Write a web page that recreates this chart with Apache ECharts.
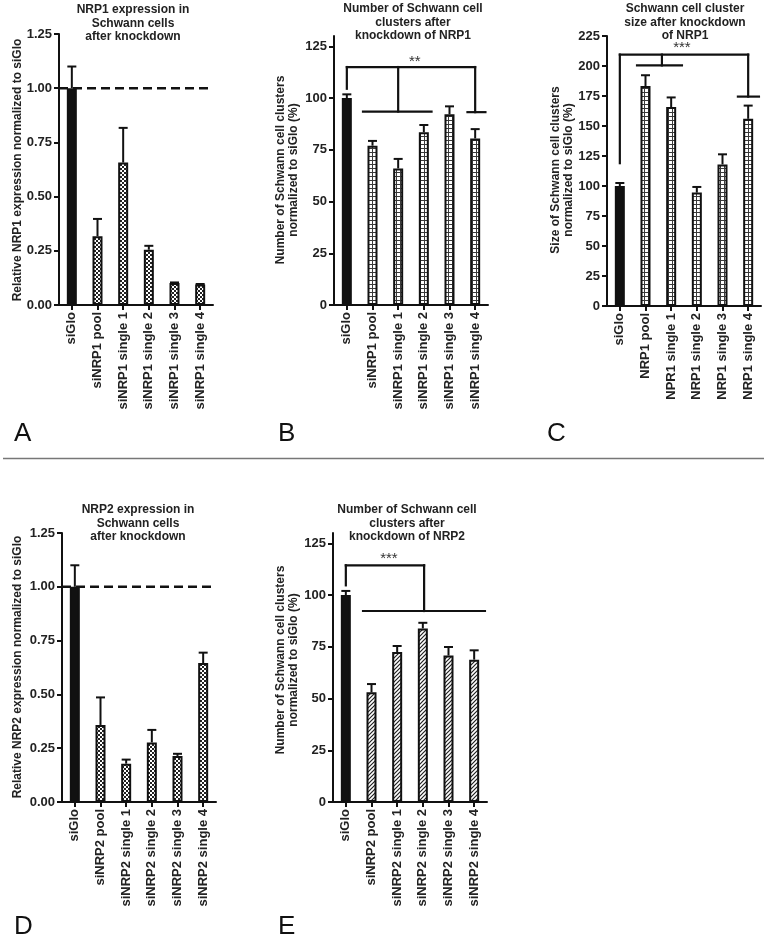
<!DOCTYPE html>
<html><head><meta charset="utf-8">
<script src="https://cdn.jsdelivr.net/npm/echarts@6/dist/echarts.min.js"></script>
<style>html,body{margin:0;padding:0;background:#fff}#c{width:764px;height:939px}</style>
</head><body><div id="c"></div>
<script>
// ---------- DATA ----------
const catsA = ['siGlo','siNRP1 pool','siNRP1 single 1','siNRP1 single 2','siNRP1 single 3','siNRP1 single 4'];
const meanA = [1.00, 0.317, 0.657, 0.255, 0.101, 0.094];
const semA  = [0.10, 0.080, 0.160, 0.018, 0.003, 0.003];

const catsB = ['siGlo','siNRP1 pool','siNRP1 single 1','siNRP1 single 2','siNRP1 single 3','siNRP1 single 4'];
const meanB = [100, 77.0, 66.0, 83.5, 92.2, 80.5];
const semB  = [1.8, 2.3, 4.6, 3.5, 3.8, 4.5];

const catsC = ['siGlo','NRP1 pool','NPR1 single 1','NRP1 single 2','NRP1 single 3','NRP1 single 4'];
const meanC = [100, 183.3, 165.8, 94.5, 118.0, 156.0];
const semC  = [2.5, 9.0, 8.0, 4.7, 8.4, 11.0];

const catsD = ['siGlo','siNRP2 pool','siNRP2 single 1','siNRP2 single 2','siNRP2 single 3','siNRP2 single 4'];
const meanD = [1.00, 0.358, 0.178, 0.277, 0.214, 0.646];
const semD  = [0.10, 0.128, 0.019, 0.058, 0.010, 0.048];

const catsE = ['siGlo','siNRP2 pool','siNRP2 single 1','siNRP2 single 2','siNRP2 single 3','siNRP2 single 4'];
const meanE = [100, 53.0, 72.5, 83.9, 70.8, 68.8];
const semE  = [2.0, 4.0, 2.9, 2.7, 4.1, 4.5];

const ticksFrac = [0, 0.25, 0.5, 0.75, 1.0, 1.25];
const ticks125  = [0, 25, 50, 75, 100, 125];
const ticks225  = [0, 25, 50, 75, 100, 125, 150, 175, 200, 225];

const refLevel = 1.0;   // dashed reference line (A, D)

// significance brackets: [x1, y1, x2, y2] in (category index, value) units
const bracketB = [[0,104.5,0,115],[0,115,5,115],[2,115,2,93.5],[0.63,93.5,3.3,93.5],[5,115,5,93.2],[4.7,93.2,5.4,93.2]];
const bracketC = [[0,119,0,209.5],[0,209.5,5,209.5],[1.64,209.5,1.64,200.5],[0.67,200.5,2.42,200.5],[5,209.5,5,174.5],[4.6,174.5,5.42,174.5]];
const bracketE = [[0,104.7,0,114.4],[0,114.4,3.05,114.4],[3.05,114.4,3.05,92.3],[0.67,92.3,5.42,92.3]];
const starPosB = [[2.65, 117.6]]; const starTxtB = ['**'];
const starPosC = [[2.42, 215.0]]; const starTxtC = ['***'];
const starPosE = [[1.68, 117.4]]; const starTxtE = ['***'];

// ---------- PATTERNS ----------
function makePattern(kind){
  const c = document.createElement('canvas');
  const n = 4; c.width = n; c.height = n;
  const g = c.getContext('2d');
  g.fillStyle = '#fff'; g.fillRect(0,0,n,n);
  if (kind === 'checker'){
    g.fillStyle = '#222'; g.fillRect(0,0,2,2); g.fillRect(2,2,2,2);
  } else if (kind === 'grid'){
    g.fillStyle = '#3a3a3a'; g.fillRect(0,0,n,1); g.fillRect(0,0,1,n);
  } else if (kind === 'hatch'){
    g.strokeStyle = '#222'; g.lineWidth = 1.2;
    g.beginPath();
    g.moveTo(0,n); g.lineTo(n,0);
    g.moveTo(-1,1); g.lineTo(1,-1);
    g.moveTo(n-1,n+1); g.lineTo(n+1,n-1);
    g.stroke();
  }
  return {image: c, repeat: 'repeat'};
}

const FONT = "'Liberation Sans', Arial, sans-serif";
const TXT = '#222';

const panels = [
  {grid:{left:59,top:34,width:154,height:271}, cats:catsA, mean:meanA, sem:semA, max:1.25, interval:0.25, ticks:ticksFrac, dec:2, pat:'checker', ref:[refLevel]},
  {grid:{left:334,top:36,width:154,height:269}, cats:catsB, mean:meanB, sem:semB, max:130, interval:25, ticks:ticks125, dec:0, pat:'grid', br:bracketB, sp:starPosB, st:starTxtB},
  {grid:{left:607,top:36,width:154,height:270}, cats:catsC, mean:meanC, sem:semC, max:225, interval:25, ticks:ticks225, dec:0, pat:'grid', br:bracketC, sp:starPosC, st:starTxtC},
  {grid:{left:62,top:533,width:154,height:269}, cats:catsD, mean:meanD, sem:semD, max:1.25, interval:0.25, ticks:ticksFrac, dec:2, pat:'checker', ref:[refLevel]},
  {grid:{left:333,top:533,width:154,height:269}, cats:catsE, mean:meanE, sem:semE, max:130, interval:25, ticks:ticks125, dec:0, pat:'hatch', br:bracketE, sp:starPosE, st:starTxtE}
];

const grids = [], xAxes = [], yAxes = [], series = [];
panels.forEach((p, k) => {
  grids.push(p.grid);
  xAxes.push({
    type:'category', gridIndex:k, data:p.cats, position:'bottom',
    axisLine:{show:true, onZero:false, lineStyle:{color:'#111', width:2}},
    axisTick:{show:true, alignWithLabel:true, length:5, lineStyle:{color:'#111', width:2}},
    axisLabel:{rotate:90, margin:7, color:TXT, fontFamily:FONT, fontWeight:'bold', fontSize:13, interval:0},
    splitLine:{show:false}
  });
  xAxes.push({type:'value', gridIndex:k, min:-0.5, max:5.5, show:false, position:'top',
    axisLine:{show:false, onZero:false}, axisTick:{show:false}, axisLabel:{show:false}, splitLine:{show:false}});
  yAxes.push({
    type:'value', gridIndex:k, min:0, max:p.max, interval:p.interval, position:'left',
    axisLine:{show:true, onZero:false, lineStyle:{color:'#111', width:2}},
    axisTick:{show:true, length:5, lineStyle:{color:'#111', width:2}, customValues:p.ticks},
    axisLabel:{margin:7, color:TXT, fontFamily:FONT, fontWeight:'bold', fontSize:13,
      customValues:p.ticks, formatter:v => Number(v).toFixed(p.dec)},
    splitLine:{show:false}
  });
  const pattern = makePattern(p.pat);
  series.push({
    type:'bar', xAxisIndex:2*k, yAxisIndex:k, barWidth:10,
    data:p.mean.map((v,i) => ({value:v, itemStyle: i===0 ? {color:'#111'} : {color:pattern}})),
    itemStyle:{borderColor:'#111', borderWidth:2},
    z:2, silent:true
  });
  if (p.ref){
    series.push({
      type:'custom', xAxisIndex:2*k+1, yAxisIndex:k, z:5, silent:true, clip:false,
      encode:{y:0},
      data:p.ref.map(v => [v]),
      renderItem:(params, api) => {
        const a = api.coord([-0.5, api.value(0)]);
        const b = api.coord([5.5, api.value(0)]);
        return {type:'line', shape:{x1:a[0], y1:a[1], x2:b[0], y2:b[1]},
          style:{stroke:'#111', lineWidth:2.5, lineDash:[9,5]}};
      }
    });
  }
  series.push({
    type:'custom', xAxisIndex:2*k, yAxisIndex:k, z:3, silent:true,
    encode:{x:0, y:[1,2]},
    data:p.mean.map((v,i) => [i, v, v + p.sem[i]]),
    renderItem:(params, api) => {
      const b = api.coord([api.value(0), api.value(1)]);
      const t = api.coord([api.value(0), api.value(2)]);
      const st = {stroke:'#111', lineWidth:2};
      return {type:'group', children:[
        {type:'line', shape:{x1:b[0], y1:b[1], x2:t[0], y2:t[1]}, style:st},
        {type:'line', shape:{x1:t[0]-4.5, y1:t[1], x2:t[0]+4.5, y2:t[1]}, style:st}
      ]};
    }
  });
  if (p.br){
    series.push({
      type:'custom', xAxisIndex:2*k+1, yAxisIndex:k, z:4, silent:true, clip:false,
      encode:{x:[0,2], y:[1,3]},
      data:p.br,
      renderItem:(params, api) => {
        const a = api.coord([api.value(0), api.value(1)]);
        const b = api.coord([api.value(2), api.value(3)]);
        return {type:'line', shape:{x1:a[0], y1:a[1], x2:b[0], y2:b[1]},
          style:{stroke:'#111', lineWidth:2.2, lineCap:'square'}};
      }
    });
    series.push({
      type:'custom', xAxisIndex:2*k+1, yAxisIndex:k, z:4, silent:true, clip:false,
      encode:{x:0, y:1},
      data:p.sp,
      renderItem:(params, api) => {
        const a = api.coord([api.value(0), api.value(1)]);
        return {type:'text', x:a[0], y:a[1],
          style:{text:p.st[params.dataIndex], align:'center', verticalAlign:'middle',
            fill:'#333', font:'15px ' + FONT}};
      }
    });
  }
});

// ---------- TEXT / DECOR ----------
function title(x, y, lines){
  return {type:'text', x:x, y:y, silent:true,
    style:{text:lines.join('\n'), align:'center', verticalAlign:'top', lineHeight:13.5,
      fill:TXT, font:'bold 12px ' + FONT}};
}
function yname(x, y, lines){
  return {type:'text', x:x, y:y, rotation:Math.PI/2, silent:true,
    style:{text:lines.join('\n'), align:'center', verticalAlign:'middle', lineHeight:12.5,
      fill:TXT, font:'bold 12px ' + FONT}};
}
function letter(x, y, t){
  return {type:'text', x:x, y:y, silent:true,
    style:{text:t, align:'left', verticalAlign:'top', fill:'#111', font:'26px ' + FONT}};
}
const graphic = [
  title(133, 3, ['NRP1 expression in','Schwann cells','after knockdown']),
  title(413, 2, ['Number of Schwann cell','clusters after','knockdown of NRP1']),
  title(685, 2, ['Schwann cell cluster','size after knockdown','of NRP1']),
  title(138, 503, ['NRP2 expression in','Schwann cells','after knockdown']),
  title(407, 503, ['Number of Schwann cell','clusters after','knockdown of NRP2']),
  yname(18, 170, ['Relative NRP1 expression normalized to siGlo']),
  yname(287, 170, ['Number of Schwann cell clusters','normalized to siGlo (%)']),
  yname(562, 170, ['Size of Schwann cell clusters','normalized to siGlo (%)']),
  yname(18, 667, ['Relative NRP2 expression normalized to siGlo']),
  yname(287, 660, ['Number of Schwann cell clusters','normalized to siGlo (%)']),
  letter(14, 421, 'A'), letter(278, 421, 'B'), letter(547, 421, 'C'),
  letter(14, 914, 'D'), letter(278, 914, 'E'),
  {type:'line', silent:true, shape:{x1:3, y1:458.5, x2:764, y2:458.5}, style:{stroke:'#777', lineWidth:1.5}}
];

const chart = echarts.init(document.getElementById('c'), null, {renderer:'canvas'});
chart.setOption({
  animation:false,
  backgroundColor:'#fff',
  grid:grids, xAxis:xAxes, yAxis:yAxes, series:series, graphic:graphic
});
</script>
</body></html>
